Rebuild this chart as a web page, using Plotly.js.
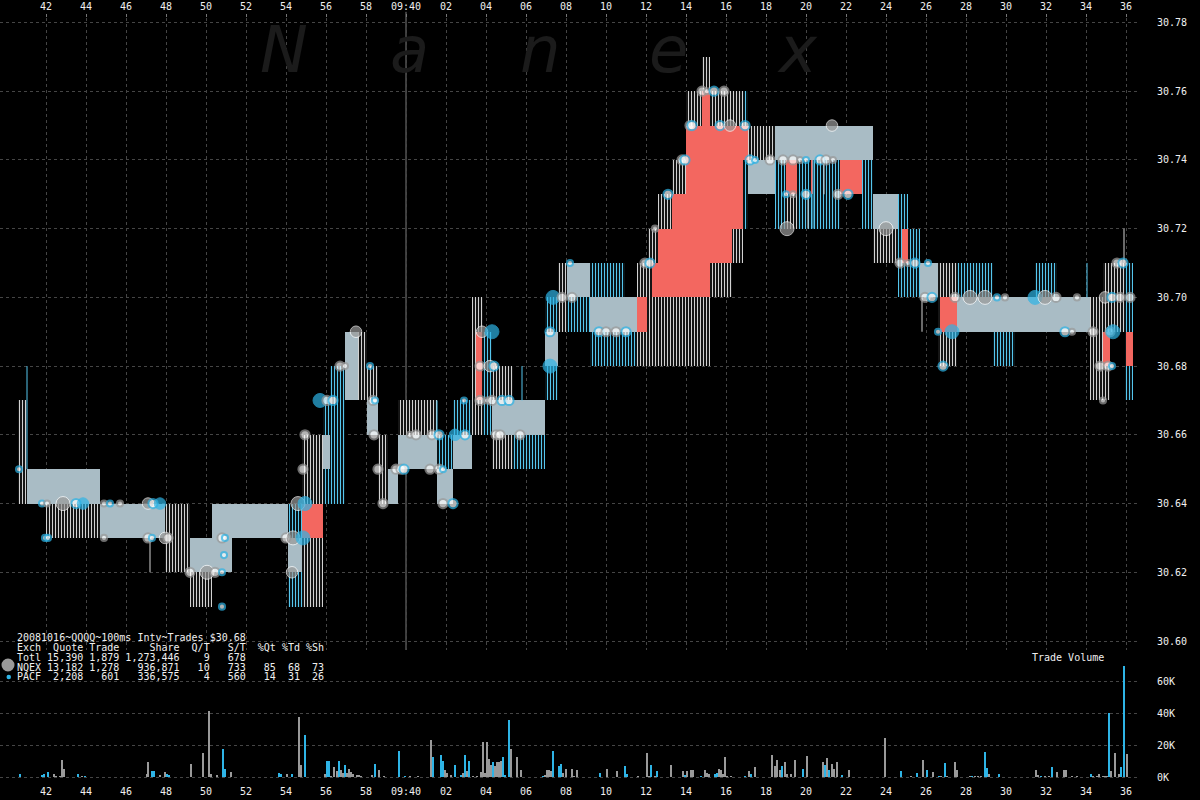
<!DOCTYPE html>
<html><head><meta charset="utf-8">
<script src="https://cdn.plot.ly/plotly-3.0.1.min.js"></script>
<style>html,body{margin:0;padding:0;background:#000;}#chart{width:1200px;height:800px;}</style>
</head><body><div id="chart"></div>
<script>
// ---------- time axis (seconds after 09:39:00) ----------
const tickVals = [42,44,46,48,50,52,54,56,58,60,62,64,66,68,70,72,74,76,78,80,82,84,86,88,90,92,94,96];
const tickText = ['42','44','46','48','50','52','54','56','58','09:40','02','04','06','08','10','12','14','16','18','20','22','24','26','28','30','32','34','36'];
const minuteMark = 60;
const priceTicks = [30.60,30.62,30.64,30.66,30.68,30.70,30.72,30.74,30.76,30.78];
const volTicks = [0,20000,40000,60000];
const volTickText = ['0K','20K','40K','60K'];

// ---------- quote bands (segment edges, inside NBBO core, outer quote range, dominant exchange) ----------
const segEdges = [40.6,41.05,42.0,44.7,47.95,49.2,50.3,51.3,54.1,54.8,55.85,56.2,56.95,57.6,58.05,58.6,59.1,59.6,61.55,62.35,63.3,63.85,64.3,65.35,66.95,67.6,68.05,69.2,70.95,71.55,72.1,72.6,73.3,74.0,74.8,75.2,76.3,76.85,77.1,78.45,78.95,79.55,81.7,82.8,83.35,84.6,85.1,85.7,86.6,87.55,89.35,90.45,91.45,92.55,94.2,94.85,95.2,95.95,96.35];
const coreLo = [null,30.64,30.64,30.63,null,30.62,30.62,30.63,30.62,null,30.65,null,30.67,null,30.66,null,30.64,30.65,30.64,30.65,null,null,30.66,30.66,30.68,null,30.70,30.69,30.69,null,null,null,null,null,null,null,null,null,30.73,30.74,30.74,30.74,30.74,30.74,30.72,null,null,30.70,null,30.69,30.69,30.69,30.69,30.69,null,null,null,null];
const coreHi = [null,30.65,30.65,30.64,null,30.63,30.64,30.64,30.63,null,30.66,null,30.69,null,30.67,null,30.65,30.66,30.65,30.66,null,null,30.67,30.67,30.69,null,30.71,30.70,30.70,null,null,null,null,null,null,null,null,null,30.74,30.75,30.75,30.75,30.75,30.75,30.73,null,null,30.71,null,30.70,30.70,30.70,30.70,30.70,null,null,null,null];
const wideLo = [30.64,30.64,30.63,30.63,30.62,30.61,30.62,30.63,30.61,30.61,30.64,30.64,30.67,30.67,30.66,30.64,30.64,30.65,30.64,30.65,30.66,30.66,30.65,30.65,30.67,30.69,30.69,30.68,30.68,30.68,30.68,30.68,30.68,30.68,30.68,30.70,30.71,30.72,30.73,30.72,30.72,30.72,30.73,30.72,30.71,30.70,30.70,30.70,30.68,30.69,30.68,30.69,30.69,30.69,30.67,30.67,30.69,30.67];
const wideHi = [30.67,30.65,30.65,30.64,30.64,30.63,30.64,30.64,30.64,30.66,30.67,30.68,30.69,30.69,30.68,30.66,30.65,30.67,30.66,30.67,30.70,30.69,30.68,30.67,30.70,30.71,30.71,30.71,30.70,30.71,30.72,30.73,30.74,30.76,30.77,30.76,30.76,30.76,30.75,30.75,30.75,30.75,30.75,30.75,30.73,30.73,30.72,30.71,30.71,30.71,30.70,30.70,30.71,30.70,30.70,30.71,30.71,30.71];
const segEx = ['N','P','N','P','N','N','P','P','P','N','P','P','P','N','N','N','P','N','P','P','N','P','N','P','P','N','P','P','P','N','N','N','N','N','N','N','N','P','N','P','N','P','N','P','N','P','P','P','N','P','P','P','P','P','N','N','N','P'];

// ---------- crossed / locked periods ----------
const redT0 = [54.8,63.5,71.55,72.3,72.6,73.3,74.0,74.8,75.2,76.3,76.85,79.0,80.25,81.7,84.8,86.7,94.85,96.0];
const redT1 = [55.85,63.8,72.05,72.6,73.3,74.0,74.8,75.2,76.3,76.85,77.1,79.55,80.35,82.8,85.1,87.55,95.2,96.35];
const redLo = [30.63,30.67,30.69,30.70,30.70,30.70,30.70,30.70,30.71,30.72,30.74,30.73,30.73,30.73,30.71,30.69,30.68,30.68];
const redHi = [30.64,30.69,30.70,30.71,30.72,30.73,30.75,30.76,30.75,30.75,30.75,30.74,30.74,30.74,30.72,30.70,30.69,30.69];

// ---------- single-interval quote spikes ----------
const spikeT  = [41.05,47.2,61.55,65.8,80.1,80.35,80.9,85.8,94.05,95.9];
const spikeLo = [30.65,30.62,30.66,30.67,30.72,30.72,30.73,30.69,30.70,30.71];
const spikeHi = [30.68,30.63,30.67,30.68,30.73,30.74,30.74,30.70,30.71,30.72];
const spikeEx = ['P','N','P','P','N','P','N','N','P','N'];

// ---------- trades ----------
const trT  = [40.65,41.8,42.05,42.85,43.5,43.85,41.95,42.1,44.9,45.2,45.7,44.9,47.1,47.35,47.7,47.1,47.3,47.95,48.1,49.2,50.05,50.45,50.8,50.9,50.8,50.8,50.95,54.0,54.35,54.85,54.3,54.6,54.95,54.85,54.95,55.7,56.05,56.35,56.7,56.95,58.2,57.5,58.35,58.45,58.4,58.6,58.85,59.5,59.75,59.9,60.2,60.5,61.3,61.65,61.2,61.65,61.85,61.85,62.35,62.45,62.95,62.9,63.7,64.2,64.4,63.8,64.3,63.7,64.05,64.3,64.8,65.15,64.5,64.7,65.7,67.2,67.2,67.35,67.8,68.3,68.2,69.65,70.0,70.5,71.0,71.95,72.2,72.45,73.1,73.8,73.95,74.2,74.3,74.8,75.05,75.4,75.9,75.7,76.2,76.95,77.2,77.45,78.2,78.85,79.35,79.7,80.0,80.7,81.0,81.35,79.0,79.35,80.0,79.05,81.3,81.6,82.1,84.0,84.7,85.1,85.45,86.1,85.95,86.3,87.45,86.6,87.3,86.85,88.2,88.95,89.55,89.95,91.45,91.95,92.5,92.95,93.3,93.55,94.95,95.3,95.7,96.2,94.35,95.2,95.35,94.7,95.1,95.3,94.85,95.55,95.85];
const trP  = [30.65,30.64,30.64,30.64,30.64,30.64,30.63,30.63,30.64,30.64,30.64,30.63,30.64,30.64,30.64,30.63,30.63,30.63,30.63,30.62,30.62,30.62,30.62,30.625,30.61,30.63,30.63,30.63,30.63,30.63,30.62,30.64,30.64,30.65,30.66,30.67,30.67,30.67,30.68,30.68,30.68,30.69,30.67,30.67,30.66,30.65,30.64,30.65,30.65,30.65,30.66,30.66,30.66,30.66,30.65,30.65,30.65,30.64,30.64,30.66,30.66,30.67,30.68,30.68,30.68,30.69,30.69,30.67,30.67,30.67,30.67,30.67,30.66,30.66,30.66,30.68,30.69,30.70,30.70,30.70,30.71,30.69,30.69,30.69,30.69,30.71,30.71,30.72,30.73,30.74,30.74,30.75,30.75,30.76,30.76,30.76,30.76,30.75,30.75,30.75,30.74,30.74,30.74,30.74,30.74,30.74,30.74,30.74,30.74,30.74,30.73,30.73,30.73,30.72,30.75,30.73,30.73,30.72,30.71,30.71,30.71,30.71,30.70,30.70,30.70,30.69,30.69,30.68,30.70,30.70,30.70,30.70,30.70,30.70,30.70,30.69,30.69,30.70,30.70,30.70,30.70,30.70,30.69,30.69,30.69,30.68,30.68,30.68,30.67,30.71,30.71];
const trEx = ['P','P','N','N','P','P','P','P','N','P','N','N','N','P','P','N','P','N','N','N','N','N','P','P','P','N','P','N','N','P','N','N','P','N','N','P','N','P','N','N','P','N','N','P','N','N','N','N','N','P','N','N','N','P','N','N','P','N','P','P','P','P','N','N','P','N','P','N','N','N','P','P','N','N','N','P','P','P','N','N','P','P','N','N','P','N','P','N','P','N','P','N','P','N','N','P','N','P','N','P','P','P','N','N','N','N','P','P','N','N','P','N','P','N','N','N','P','N','N','N','P','P','N','P','N','P','P','P','N','N','P','N','P','N','N','P','N','N','N','P','N','N','N','N','P','N','N','P','N','N','P'];
const trSh = [200,200,200,2500,800,1500,200,200,200,200,200,200,1500,800,1500,800,200,1500,800,800,2500,800,200,200,200,800,200,800,2500,2500,1500,2500,2500,800,800,2500,800,800,800,200,200,1500,800,200,800,800,800,800,800,800,200,800,800,800,800,800,200,800,800,1500,800,200,800,1500,800,1500,2500,800,200,800,800,800,800,800,800,2500,800,2500,800,800,200,800,800,800,800,800,800,200,800,800,800,800,800,800,200,800,800,800,1500,800,800,200,800,800,800,200,200,800,800,200,200,200,800,2500,1500,800,800,2500,800,200,800,200,800,800,800,200,2500,800,2500,2500,200,200,2500,2500,800,800,200,200,1500,800,800,800,800,800,2500,800,800,200,200,800,800];

// ---------- trade volume per 100ms (thousands of shares) ----------
const volT = [40.7,41.8,41.9,42.1,42.4,42.5,42.7,42.8,42.9,43.6,43.8,43.95,44.9,45.25,45.7,47.05,47.1,47.3,47.4,47.7,47.95,48.05,48.15,49.25,49.85,50.15,50.25,50.55,50.85,50.95,51.25,53.65,53.75,54.05,54.3,54.65,54.75,54.95,55.95,56.05,56.15,56.25,56.4,56.55,56.65,56.75,56.85,56.95,57.05,57.15,57.25,57.35,57.55,57.65,57.75,58.3,58.45,58.65,58.9,59.65,59.95,60.2,60.6,61.25,61.35,61.75,61.85,61.95,62.05,62.25,62.45,62.75,62.85,62.95,63.05,63.15,63.35,63.55,63.75,63.85,63.95,64.05,64.15,64.25,64.35,64.45,64.55,64.65,64.75,64.85,64.95,65.15,65.25,65.55,65.75,66.6,66.85,66.95,67.05,67.15,67.25,67.35,67.65,67.75,67.85,68.0,68.3,68.4,68.55,69.7,70.05,70.55,70.95,71.05,71.6,72.05,72.15,72.25,72.45,72.55,73.25,73.85,73.95,74.05,74.25,74.35,74.75,74.95,75.05,75.15,75.45,75.55,75.65,75.75,75.85,75.95,76.05,76.25,76.95,77.15,77.25,77.45,78.3,78.45,78.55,78.7,78.8,78.95,79.05,79.25,79.45,79.7,79.85,80.05,80.15,80.35,80.85,80.95,81.05,81.15,81.3,81.4,81.55,81.8,82.15,83.95,84.75,85.25,85.55,85.85,86.05,86.35,86.65,86.75,86.95,87.05,87.45,87.55,88.2,88.3,88.45,88.6,88.75,88.95,89.05,89.15,89.65,90.05,91.5,91.6,91.75,91.95,92.15,92.3,92.55,92.9,93.0,93.3,93.55,94.25,94.35,94.55,94.65,94.85,94.95,95.05,95.15,95.25,95.45,95.65,95.75,95.9,96.05,96.15,96.25];
const volK = [2.1,1.5,2.0,2.9,2.0,0.8,0.8,10.9,5.2,2.0,0.8,0.4,0.2,0.2,0.2,2.0,9.6,4.0,3.6,1.2,3.4,1.9,1.5,8.4,15.3,41.7,2.0,1.5,17.8,5.2,2.9,2.5,1.9,2.0,2.0,38.1,7.3,26.6,2.0,10.3,9.8,0.8,6.3,3.6,9.8,4.2,2.5,7.7,2.5,5.2,2.9,2.0,1.2,1.2,0.8,1.5,8.4,4.6,0.4,16.5,0.8,0.4,0.4,23.5,12.8,13.6,9.8,4.6,2.5,1.5,7.3,1.5,2.5,14.0,3.6,9.8,0.8,0.8,3.4,21.8,2.5,21.8,11.5,7.7,9.2,6.7,9.4,9.4,9.8,12.4,1.5,36.0,17.8,12.4,4.2,0.2,0.4,1.5,4.6,4.2,4.0,16.5,6.7,8.4,2.5,5.2,5.2,0.8,4.6,2.5,5.2,4.0,7.1,2.0,0.4,15.3,0.8,7.7,0.8,4.0,7.7,3.6,1.5,3.6,4.6,4.6,0.8,4.6,2.5,2.0,2.0,2.5,5.2,4.6,2.0,12.8,0.8,0.8,0.8,3.6,1.9,6.1,14.0,6.7,10.9,4.6,6.7,9.6,2.0,2.0,10.5,0.2,5.2,13.0,0.2,0.2,9.6,7.7,11.9,4.6,8.4,5.2,9.6,1.5,4.6,24.5,4.0,0.8,2.5,10.9,4.6,3.4,0.8,0.8,8.8,0.8,9.6,4.6,0.4,0.8,0.8,0.8,0.8,15.9,5.7,2.0,2.0,0.2,4.6,1.5,0.8,0.8,0.8,6.3,2.9,4.6,4.6,0.8,0.4,2.0,0.8,0.8,2.0,0.8,0.8,0.8,40.6,3.6,15.3,2.0,6.1,70.0,14.7,0.8,2.9];
const volEx = ['P','P','P','P','N','N','N','N','N','P','N','P','N','P','N','N','N','P','P','N','N','P','P','N','N','N','N','N','P','P','N','P','P','N','P','N','N','P','N','P','P','N','N','N','P','N','N','P','N','N','N','N','N','N','N','N','P','N','N','P','P','N','N','N','P','P','P','N','N','N','P','P','N','P','N','P','N','N','N','N','N','N','N','N','P','N','N','N','N','P','P','P','N','N','N','P','P','N','N','N','N','P','P','P','N','N','N','N','N','P','N','N','P','P','N','N','N','P','N','P','N','N','P','N','N','N','P','N','N','N','P','P','N','N','N','N','N','N','P','N','P','N','N','N','N','N','P','N','N','N','N','P','P','N','N','P','N','P','N','P','N','N','N','P','N','N','P','N','P','N','P','N','P','N','P','N','N','N','N','P','N','N','N','P','P','N','P','N','N','N','P','N','N','P','N','N','N','N','N','P','N','N','N','N','N','N','P','N','N','N','P','P','N'];

// ---------- summary table ----------
const statTitle = '20081016~QQQQ~100ms Intv~Trades $30.68';
const statHeader = ['Exch','Quote','Trade','Share','Q/T','S/T','%Qt','%Td','%Sh'];
const statExch  = ['Totl','NQEX','PACF'];
const statQuote = [15390,13182,2208];
const statTrade = [1879,1278,601];
const statShare = [1273446,936871,336575];
const statQT    = [9,10,4];
const statST    = [678,733,560];
const statPQt   = [null,85,14];
const statPTd   = [null,68,31];
const statPSh   = [null,73,26];
const watermark = ['N','a','n','e','x'];

// ---------- styling / geometry ----------
const COL = {N:'#9a9a9a', P:'#2eb4e6', stripeN:'#d2d2d2', stripeP:'#55c6ee', core:'#a9bcc5', red:'#f36760', grid:'#454545', text:'#f0f0f0'};
const M = {l:0, r:60, t:18, b:16};
const PW = 1200 - M.l - M.r, PH = 800 - M.t - M.b;
const px2x = px => (px - M.l) / PW;
const py2y = py => (800 - M.b - py) / PH;
const volTopPy = 650;
const volDomainTop = py2y(volTopPy);
// price scale: 30.78 @ y=22.5px, 30.60 @ y=641px
const pPerPx = 0.18 / (641 - 22.5);
const priceRange = [30.60 - (800 - M.b - 641) * pPerPx, 30.78 + (22.5 - M.t) * pPerPx];
// volume scale: 0 @ y=777px, 20K per 31.7px
const vPerPx = 20000 / 31.7;
const volRange = [-(800 - M.b - 777) * vPerPx, (777 - volTopPy) * vPerPx];
const timeRange = [39.7, 96.7];

const traces = [];
const nSeg = segEdges.length - 1;
function bars(idx, lo, hi, marker) {
  return {type:'bar', xaxis:'x', yaxis:'y', hoverinfo:'skip', showlegend:false,
    x: idx.map(i => (segEdges[i] + segEdges[i+1]) / 2),
    width: idx.map(i => segEdges[i+1] - segEdges[i]),
    base: idx.map(i => lo[i]), y: idx.map(i => hi[i] - lo[i]), marker};
}
const all = [...Array(nSeg).keys()];
['N','P'].forEach(ex => {
  const idx = all.filter(i => segEx[i] === ex);
  traces.push(bars(idx, wideLo, wideHi, {color:'#000', line:{width:0},
    pattern:{shape:'|', fgcolor: ex === 'N' ? COL.stripeN : COL.stripeP, bgcolor:'#000', size:3, solidity:0.4}}));
});
const coreIdx = all.filter(i => coreLo[i] !== null);
traces.push(bars(coreIdx, coreLo, coreHi, {color:COL.core, line:{width:0}}));
traces.push({type:'bar', xaxis:'x', yaxis:'y', hoverinfo:'skip', showlegend:false,
  x: redT0.map((t,i) => (t + redT1[i]) / 2), width: redT0.map((t,i) => redT1[i] - t),
  base: redLo, y: redHi.map((h,i) => h - redLo[i]), marker:{color:COL.red, line:{width:0}}});
['N','P'].forEach(ex => {
  const xs = [], ys = [];
  spikeT.forEach((t,i) => { if (spikeEx[i] === ex) { xs.push(t,t,null); ys.push(spikeLo[i], spikeHi[i], null); } });
  traces.push({type:'scatter', mode:'lines', x:xs, y:ys, xaxis:'x', yaxis:'y', hoverinfo:'skip', showlegend:false,
    line:{color: ex === 'N' ? COL.stripeN : COL.stripeP, width:1}});
});
// trades
traces.push({type:'scatter', mode:'markers', x:trT, y:trP, xaxis:'x', yaxis:'y', hoverinfo:'skip', showlegend:false,
  marker:{
    size: trSh.map(s => 3 + 2.2 * Math.sqrt(s / 100)),
    color: trSh.map((s,i) => s >= 1500 ? COL[trEx[i]] : '#ffffff'),
    line:{color: trSh.map((s,i) => s >= 1500 ? (trEx[i] === 'N' ? '#ffffff' : COL.P) : COL[trEx[i]]),
          width: trSh.map(s => s >= 1500 ? 1 : 2)}
  }});
// volume
['N','P'].forEach(ex => {
  const idx = volT.map((t,i) => i).filter(i => volEx[i] === ex);
  traces.push({type:'bar', xaxis:'x2', yaxis:'y2', hoverinfo:'skip', showlegend:false,
    x: idx.map(i => volT[i]), y: idx.map(i => volK[i] * 1000), width: idx.map(() => 0.09),
    marker:{color: COL[ex], line:{width:0}}});
});

// annotations
const nb = s => s.replace(/ /g, '\u00a0');
const fmt = v => v === null ? '' : v.toLocaleString('en-US');
const widths = [4,7,6,10,5,6,5,4,4];
const row = cells => cells.map((c,i) => i === 0 ? c.padEnd(widths[0]) : c.padStart(widths[i])).join('').replace(/\s+$/, '');
const lines = [statTitle, row(statHeader)];
statExch.forEach((e,i) => lines.push(row([e, fmt(statQuote[i]), fmt(statTrade[i]), fmt(statShare[i]), fmt(statQT[i]), fmt(statST[i]), fmt(statPQt[i]), fmt(statPTd[i]), fmt(statPSh[i])])));
const lineY = [637.7, 647.3, 657.7, 667.3, 676.7];
const mono = 'DejaVu Sans Mono, monospace';
const annotations = lines.map((s,i) => ({xref:'paper', yref:'paper', x:px2x(15), y:py2y(lineY[i]), xanchor:'left', yanchor:'middle',
  text: nb(s), showarrow:false, font:{family:mono, size:10, color:COL.text}}));
annotations.push({xref:'paper', yref:'paper', x:px2x(1068), y:py2y(657), xanchor:'center', yanchor:'middle',
  text: nb('Trade Volume'), showarrow:false, font:{family:mono, size:10, color:COL.text}});
const wmX = [284, 409, 540, 668, 797];
watermark.forEach((ch,i) => annotations.push({xref:'paper', yref:'paper', x:px2x(wmX[i]), y:py2y(50), xanchor:'center', yanchor:'middle',
  text:'<i>' + ch + '</i>', showarrow:false, font:{family:'DejaVu Sans, sans-serif', size:64, color:'#1b1b1b'}}));

const shapes = [
  {type:'line', xref:'x', yref:'paper', x0:minuteMark, x1:minuteMark, y0:0, y1:1.008, layer:'below', line:{color:'#7a7a7a', width:1}},
  {type:'circle', xref:'paper', yref:'paper', x0:px2x(1.5), x1:px2x(14.5), y0:py2y(671.5), y1:py2y(658.5), fillcolor:COL.N, line:{width:0}},
  {type:'circle', xref:'paper', yref:'paper', x0:px2x(6.5), x1:px2x(11), y0:py2y(679.3), y1:py2y(674.8), fillcolor:COL.P, line:{width:0}}
];

const axFont = {family:mono, size:10, color:COL.text};
const layout = {
  width:1200, height:800, margin:M, paper_bgcolor:'#000', plot_bgcolor:'#000',
  barmode:'overlay', showlegend:false, hovermode:false, bargap:0,
  xaxis:{range:timeRange, side:'top', anchor:'y', tickmode:'array', tickvals:tickVals, ticktext:tickText,
    showgrid:true, gridcolor:COL.grid, griddash:'3px,3px', gridwidth:1, zeroline:false, showline:false,
    ticks:'outside', ticklen:3, tickcolor:'#777', tickfont:axFont, fixedrange:true},
  xaxis2:{range:timeRange, matches:'x', side:'bottom', anchor:'y2', tickmode:'array', tickvals:tickVals, ticktext:tickText,
    showgrid:false, zeroline:false, showline:false, ticks:'', tickfont:axFont, fixedrange:true},
  yaxis:{domain:[0,1], range:priceRange, side:'right', anchor:'x', tickmode:'array', tickvals:priceTicks, ticktext:priceTicks.map(v => v.toFixed(2)),
    showgrid:true, gridcolor:COL.grid, griddash:'3px,3px', zeroline:false, showline:false,
    ticks:'outside', ticklen:14, tickcolor:'rgba(0,0,0,0)', tickfont:axFont, fixedrange:true},
  yaxis2:{domain:[0,volDomainTop], range:volRange, side:'right', anchor:'x2', tickmode:'array', tickvals:volTicks, ticktext:volTickText,
    showgrid:true, gridcolor:COL.grid, griddash:'3px,3px', zeroline:false, showline:false,
    ticks:'outside', ticklen:14, tickcolor:'rgba(0,0,0,0)', tickfont:axFont, fixedrange:true},
  annotations, shapes
};
Plotly.newPlot('chart', traces, layout, {displayModeBar:false, staticPlot:true});
</script></body></html>
